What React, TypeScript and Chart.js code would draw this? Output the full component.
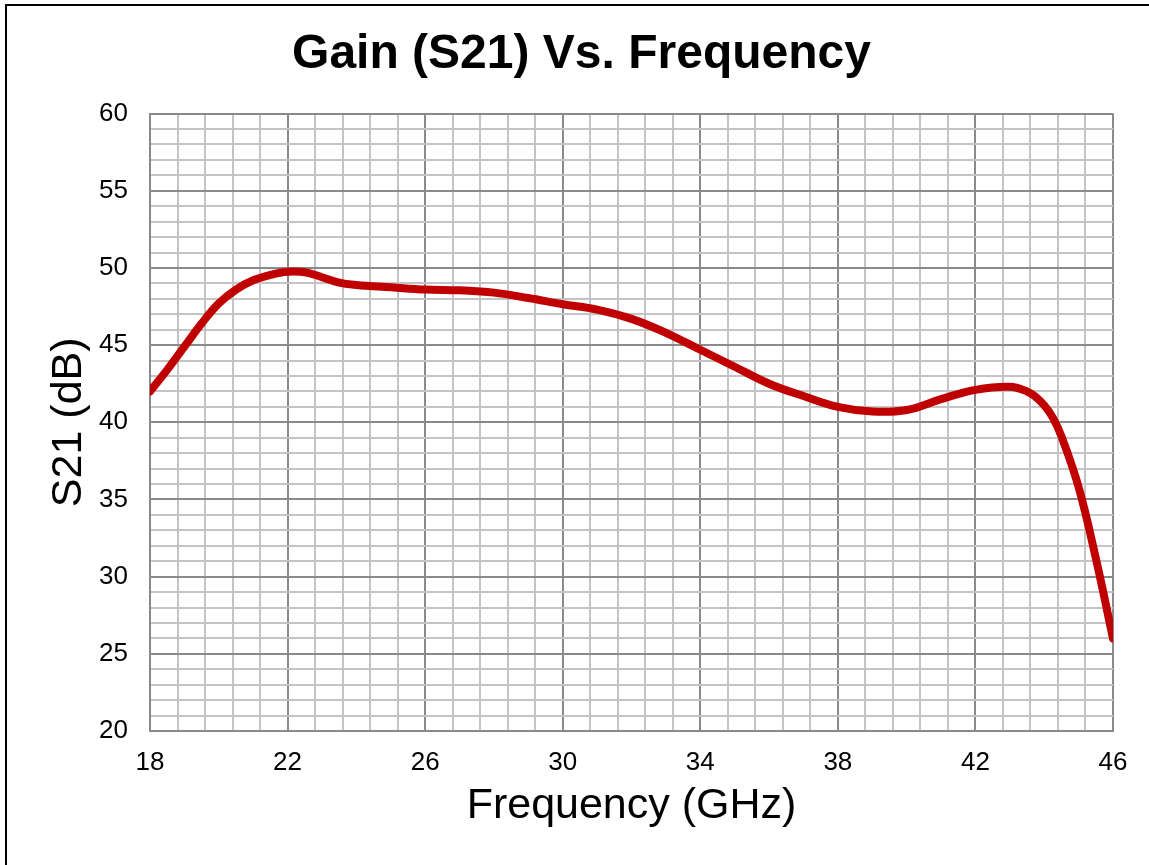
import React, { useEffect, useRef } from "react";
import { Chart, registerables } from "chart.js";

Chart.register(...registerables);

const chartTitle = "Gain (S21) Vs. Frequency";
const xAxisTitle = "Frequency (GHz)";
const yAxisTitle = "S21 (dB)";

const frequencyGHz = [
  18, 18.5, 19, 19.5, 20, 20.5, 21, 21.5, 22, 22.5, 23, 23.5, 24, 25, 26, 27, 28, 29, 30, 31, 32,
  33, 34, 35, 36, 37, 38, 39, 40, 41, 42, 43, 43.5, 43.75, 44, 44.25, 44.5, 45, 45.5, 46,
];
const gainDb = [
  42.0, 43.4, 44.9, 46.4, 47.7, 48.6, 49.2, 49.55, 49.75, 49.72, 49.4, 49.05, 48.9, 48.75, 48.6,
  48.55, 48.4, 48.05, 47.65, 47.3, 46.7, 45.8, 44.7, 43.6, 42.5, 41.7, 41.0, 40.7, 40.8, 41.5, 42.1,
  42.3, 42.0, 41.65, 41.1, 40.3, 39.1, 35.8, 31.2, 26.0,
];

const xMin = 18;
const xMax = 46;
const xMinorStep = 0.8;
const xMajorStep = 4;
const yMin = 20;
const yMax = 60;
const yMinorStep = 1;
const yMajorStep = 5;

const isMajor = (v: number, base: number, step: number) => {
  const k = (v - base) / step;
  return Math.abs(k - Math.round(k)) < 1e-6;
};

export default function App() {
  const ref = useRef<HTMLCanvasElement | null>(null);

  useEffect(() => {
    const canvas = ref.current;
    if (!canvas) return;
    const chart = new Chart(canvas, {
      type: "scatter",
      data: {
        datasets: [
          {
            data: frequencyGHz.map((f, i) => ({ x: f, y: gainDb[i] })),
            showLine: true,
            borderColor: "#C00000",
            backgroundColor: "#C00000",
            borderWidth: 8,
            pointRadius: 0,
            tension: 0.4,
            borderCapStyle: "round",
            borderJoinStyle: "round",
          },
        ],
      },
      options: {
        responsive: false,
        animation: false,
        devicePixelRatio: 1,
        layout: { padding: { left: 50, right: 36, top: 0, bottom: 0 } },
        plugins: {
          legend: { display: false },
          tooltip: { enabled: false },
          title: {
            display: true,
            text: chartTitle,
            color: "#000",
            font: { family: "Liberation Sans, Arial, sans-serif", size: 48, weight: "bold", lineHeight: 1.2 },
            padding: { top: 26, bottom: 30 },
          },
        },
        scales: {
          x: {
            type: "linear",
            min: xMin,
            max: xMax,
            afterBuildTicks: (scale: any) => {
              const ticks = [];
              const n = Math.round((xMax - xMin) / xMinorStep);
              for (let i = 0; i <= n; i++) ticks.push({ value: +(xMin + i * xMinorStep).toFixed(4) });
              scale.ticks = ticks;
            },
            afterFit: (scale: any) => {
              scale.height = 865 - 731;
            },
            ticks: {
              autoSkip: false,
              maxRotation: 0,
              padding: 16,
              color: "#000",
              font: { family: "Liberation Sans, Arial, sans-serif", size: 26 },
              callback: (v: any) => (isMajor(Number(v), xMin, xMajorStep) ? String(Math.round(Number(v))) : ""),
            },
            grid: {
              drawTicks: false,
              lineWidth: 2,
              color: (ctx: any) => (isMajor(ctx.tick.value, xMin, xMajorStep) ? "#8a8a8a" : "#c4c4c4"),
            },
            border: { color: "#8a8a8a", width: 2 },
            title: {
              display: true,
              text: xAxisTitle,
              color: "#000",
              font: { family: "Liberation Sans, Arial, sans-serif", size: 43, lineHeight: 1.2 },
              padding: { top: 0, bottom: 33 },
            },
          },
          y: {
            type: "linear",
            min: yMin,
            max: yMax,
            afterBuildTicks: (scale: any) => {
              const ticks = [];
              for (let v = yMin; v <= yMax; v += yMinorStep) ticks.push({ value: v });
              scale.ticks = ticks;
            },
            afterFit: (scale: any) => {
              scale.width = 100;
            },
            ticks: {
              autoSkip: false,
              padding: 22,
              color: "#000",
              font: { family: "Liberation Sans, Arial, sans-serif", size: 26 },
              callback: (v: any) => (isMajor(Number(v), yMin, yMajorStep) ? String(Math.round(Number(v))) : ""),
            },
            grid: {
              drawTicks: false,
              lineWidth: 2,
              color: (ctx: any) => (isMajor(ctx.tick.value, yMin, yMajorStep) ? "#8a8a8a" : "#c4c4c4"),
            },
            border: { color: "#8a8a8a", width: 2 },
            title: {
              display: true,
              text: yAxisTitle,
              color: "#000",
              font: { family: "Liberation Sans, Arial, sans-serif", size: 43, lineHeight: 1.2 },
              padding: { top: -7, bottom: 0 },
            },
          },
        },
      },
    });
    return () => chart.destroy();
  }, []);

  return (
    <div style={{ position: "fixed", left: 0, top: 0, width: 1149, height: 865, background: "#fff", overflow: "hidden" }}>
      <canvas ref={ref} width={1149} height={865} style={{ position: "absolute", left: 0, top: 0, width: 1149, height: 865 }} />
      <div
        style={{
          position: "absolute",
          left: 5,
          top: 4,
          width: 1160,
          height: 880,
          border: "2px solid #000",
          pointerEvents: "none",
        }}
      />
    </div>
  );
}
